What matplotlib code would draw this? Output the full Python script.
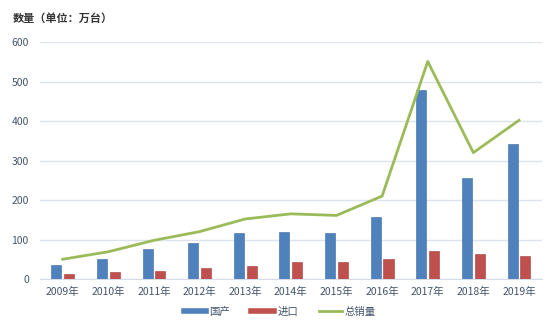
import matplotlib
matplotlib.use("Agg")
import matplotlib.pyplot as plt
from matplotlib.lines import Line2D
import numpy as np

plt.rcParams['font.family'] = ['Noto Sans CJK SC', 'DejaVu Sans']

years = ['2009年', '2010年', '2011年', '2012年', '2013年', '2014年',
         '2015年', '2016年', '2017年', '2018年', '2019年']
domestic = [36, 51, 76, 90, 116, 119, 116, 157, 479, 256, 343]
imported = [13, 17, 20, 29, 34, 43, 43, 50, 70, 63, 57]
total = [50, 69, 98, 120, 152, 165, 161, 210, 551, 320, 402]

blue = '#4F81BD'
red = '#C0504D'
green = '#9BBB59'
text_color = '#44546A'

fig = plt.figure(figsize=(5.54, 3.29), dpi=100)
ax = fig.add_axes([0.072, 0.152, 0.906, 0.72])

x = np.arange(len(years))
w = 0.22
ax.bar(x - 0.14, domestic, width=w, color=blue, edgecolor='#3A6AA5', linewidth=0.4, zorder=3)
ax.bar(x + 0.14, imported, width=w, color=red, edgecolor='#A23B38', linewidth=0.4, zorder=3)
ax.plot(x, total, color=green, linewidth=2.0, zorder=4)

ax.set_xlim(-0.5, len(years) - 0.5)
ax.set_ylim(0, 600)
ax.set_yticks(range(0, 601, 100))
ax.set_xticks(x)
ax.set_xticklabels(years)
ax.grid(axis='y', color='#DCE3EC', linewidth=1.0, zorder=0)
ax.tick_params(length=0, labelsize=7.5, colors=text_color, pad=6)
ax.tick_params(axis='y', pad=8)
for s in ['top', 'right', 'left']:
    ax.spines[s].set_visible(False)
ax.spines['bottom'].set_color('#D5DCE5')

fig.text(0.023, 0.945, '数量（单位：万台）', fontsize=8, fontweight='bold',
         color='#333333', va='center')

handles = [Line2D([], [], color=blue, linewidth=4),
           Line2D([], [], color=red, linewidth=4),
           Line2D([], [], color=green, linewidth=2)]
fig.legend(handles, ['国产', '进口', '总销量'], loc='center',
           bbox_to_anchor=(0.505, 0.052), ncol=3, frameon=False,
           fontsize=7.5, labelcolor=text_color, handlelength=2.2,
           handletextpad=0.3, columnspacing=2.0)

fig.savefig('out.png', dpi=100)
